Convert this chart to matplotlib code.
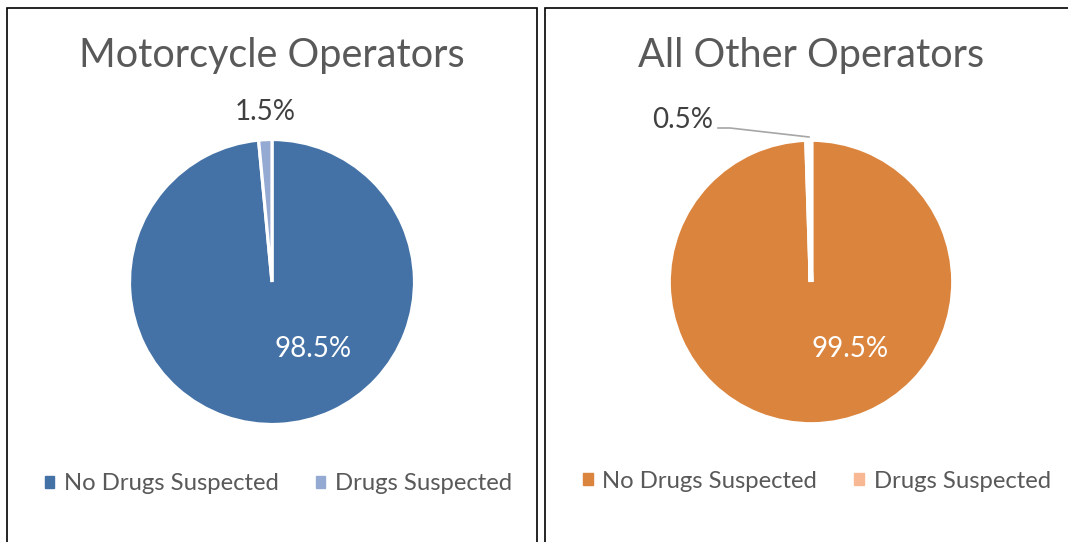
import matplotlib.pyplot as plt
from matplotlib.patches import Rectangle
from matplotlib.lines import Line2D

# data
categories = ['No Drugs Suspected', 'Drugs Suspected']
titles = ['Motorcycle Operators', 'All Other Operators']
moto_values = [98.5, 1.5]
other_values = [99.5, 0.5]
moto_colors = ['#4472A6', '#95AAD2']
other_colors = ['#DB843D', '#F8B893']

W, H = 1068, 542
plt.rcParams['font.family'] = ['Lato', 'DejaVu Sans']

fig = plt.figure(figsize=(W / 100, H / 100), dpi=100)


def px_axes(cx, cy, r):
    # square axes centred on (cx, cy) in pixel coords (y from top)
    return fig.add_axes([(cx - r) / W, 1 - (cy + r) / H, 2 * r / W, 2 * r / H])


def draw_panel(cx, cy, r, values, colors, title, small_xy, big_xy, leader=None,
               legend_y=484, legend_x=None, edge_w=2.3):
    ax = px_axes(cx, cy, r)
    wedges, _ = ax.pie(values, colors=colors, startangle=90, counterclock=False,
                       wedgeprops=dict(edgecolor='white', linewidth=edge_w))
    ax.set_xlim(-1, 1)
    ax.set_ylim(-1, 1)
    ax.set_aspect('equal')
    ax.axis('off')

    fig.text(cx / W, 1 - 56 / H, title, ha='center', va='center', fontsize=28.5,
             color='#595959')
    fig.text(big_xy[0] / W, 1 - big_xy[1] / H, '%.1f%%' % values[0], ha='center', va='center',
             fontsize=20, color='white')
    fig.text(small_xy[0] / W, 1 - small_xy[1] / H, '%.1f%%' % values[1], ha='center', va='center',
             fontsize=20, color='#404040')
    if leader is not None:
        xs = [p[0] / W for p in leader]
        ys = [1 - p[1] / H for p in leader]
        fig.add_artist(Line2D(xs, ys, color='#A6A6A6', linewidth=1.2))

    handles = [Rectangle((0, 0), 1, 1, color=c) for c in colors]
    fig.legend(handles, categories, loc='center', bbox_to_anchor=(legend_x / W, 1 - legend_y / H),
               ncol=2, frameon=False, fontsize=17.2, handlelength=0.4, handleheight=0.4,
               handletextpad=0.4, columnspacing=1.55, labelcolor='#595959')


draw_panel(272, 282, 142.5, moto_values, moto_colors, titles[0],
           small_xy=(265, 112), big_xy=(313, 349), legend_y=484, legend_x=278.5)
draw_panel(811, 282, 142.5, other_values, other_colors, titles[1],
           small_xy=(683, 120), big_xy=(850, 349),
           leader=[(718, 128), (730, 128), (809, 137)], legend_y=481, legend_x=817,
           edge_w=3.4)

# panel borders
fig.add_artist(Rectangle((7 / W, -0.1), 530 / W, 1.1 - 8 / H, transform=fig.transFigure,
                         fill=False, edgecolor='black', linewidth=1.2))
fig.add_artist(Rectangle((545 / W, -0.1), 600 / W, 1.1 - 8 / H, transform=fig.transFigure,
                         fill=False, edgecolor='black', linewidth=1.2))

fig.savefig('out.png', dpi=100)
